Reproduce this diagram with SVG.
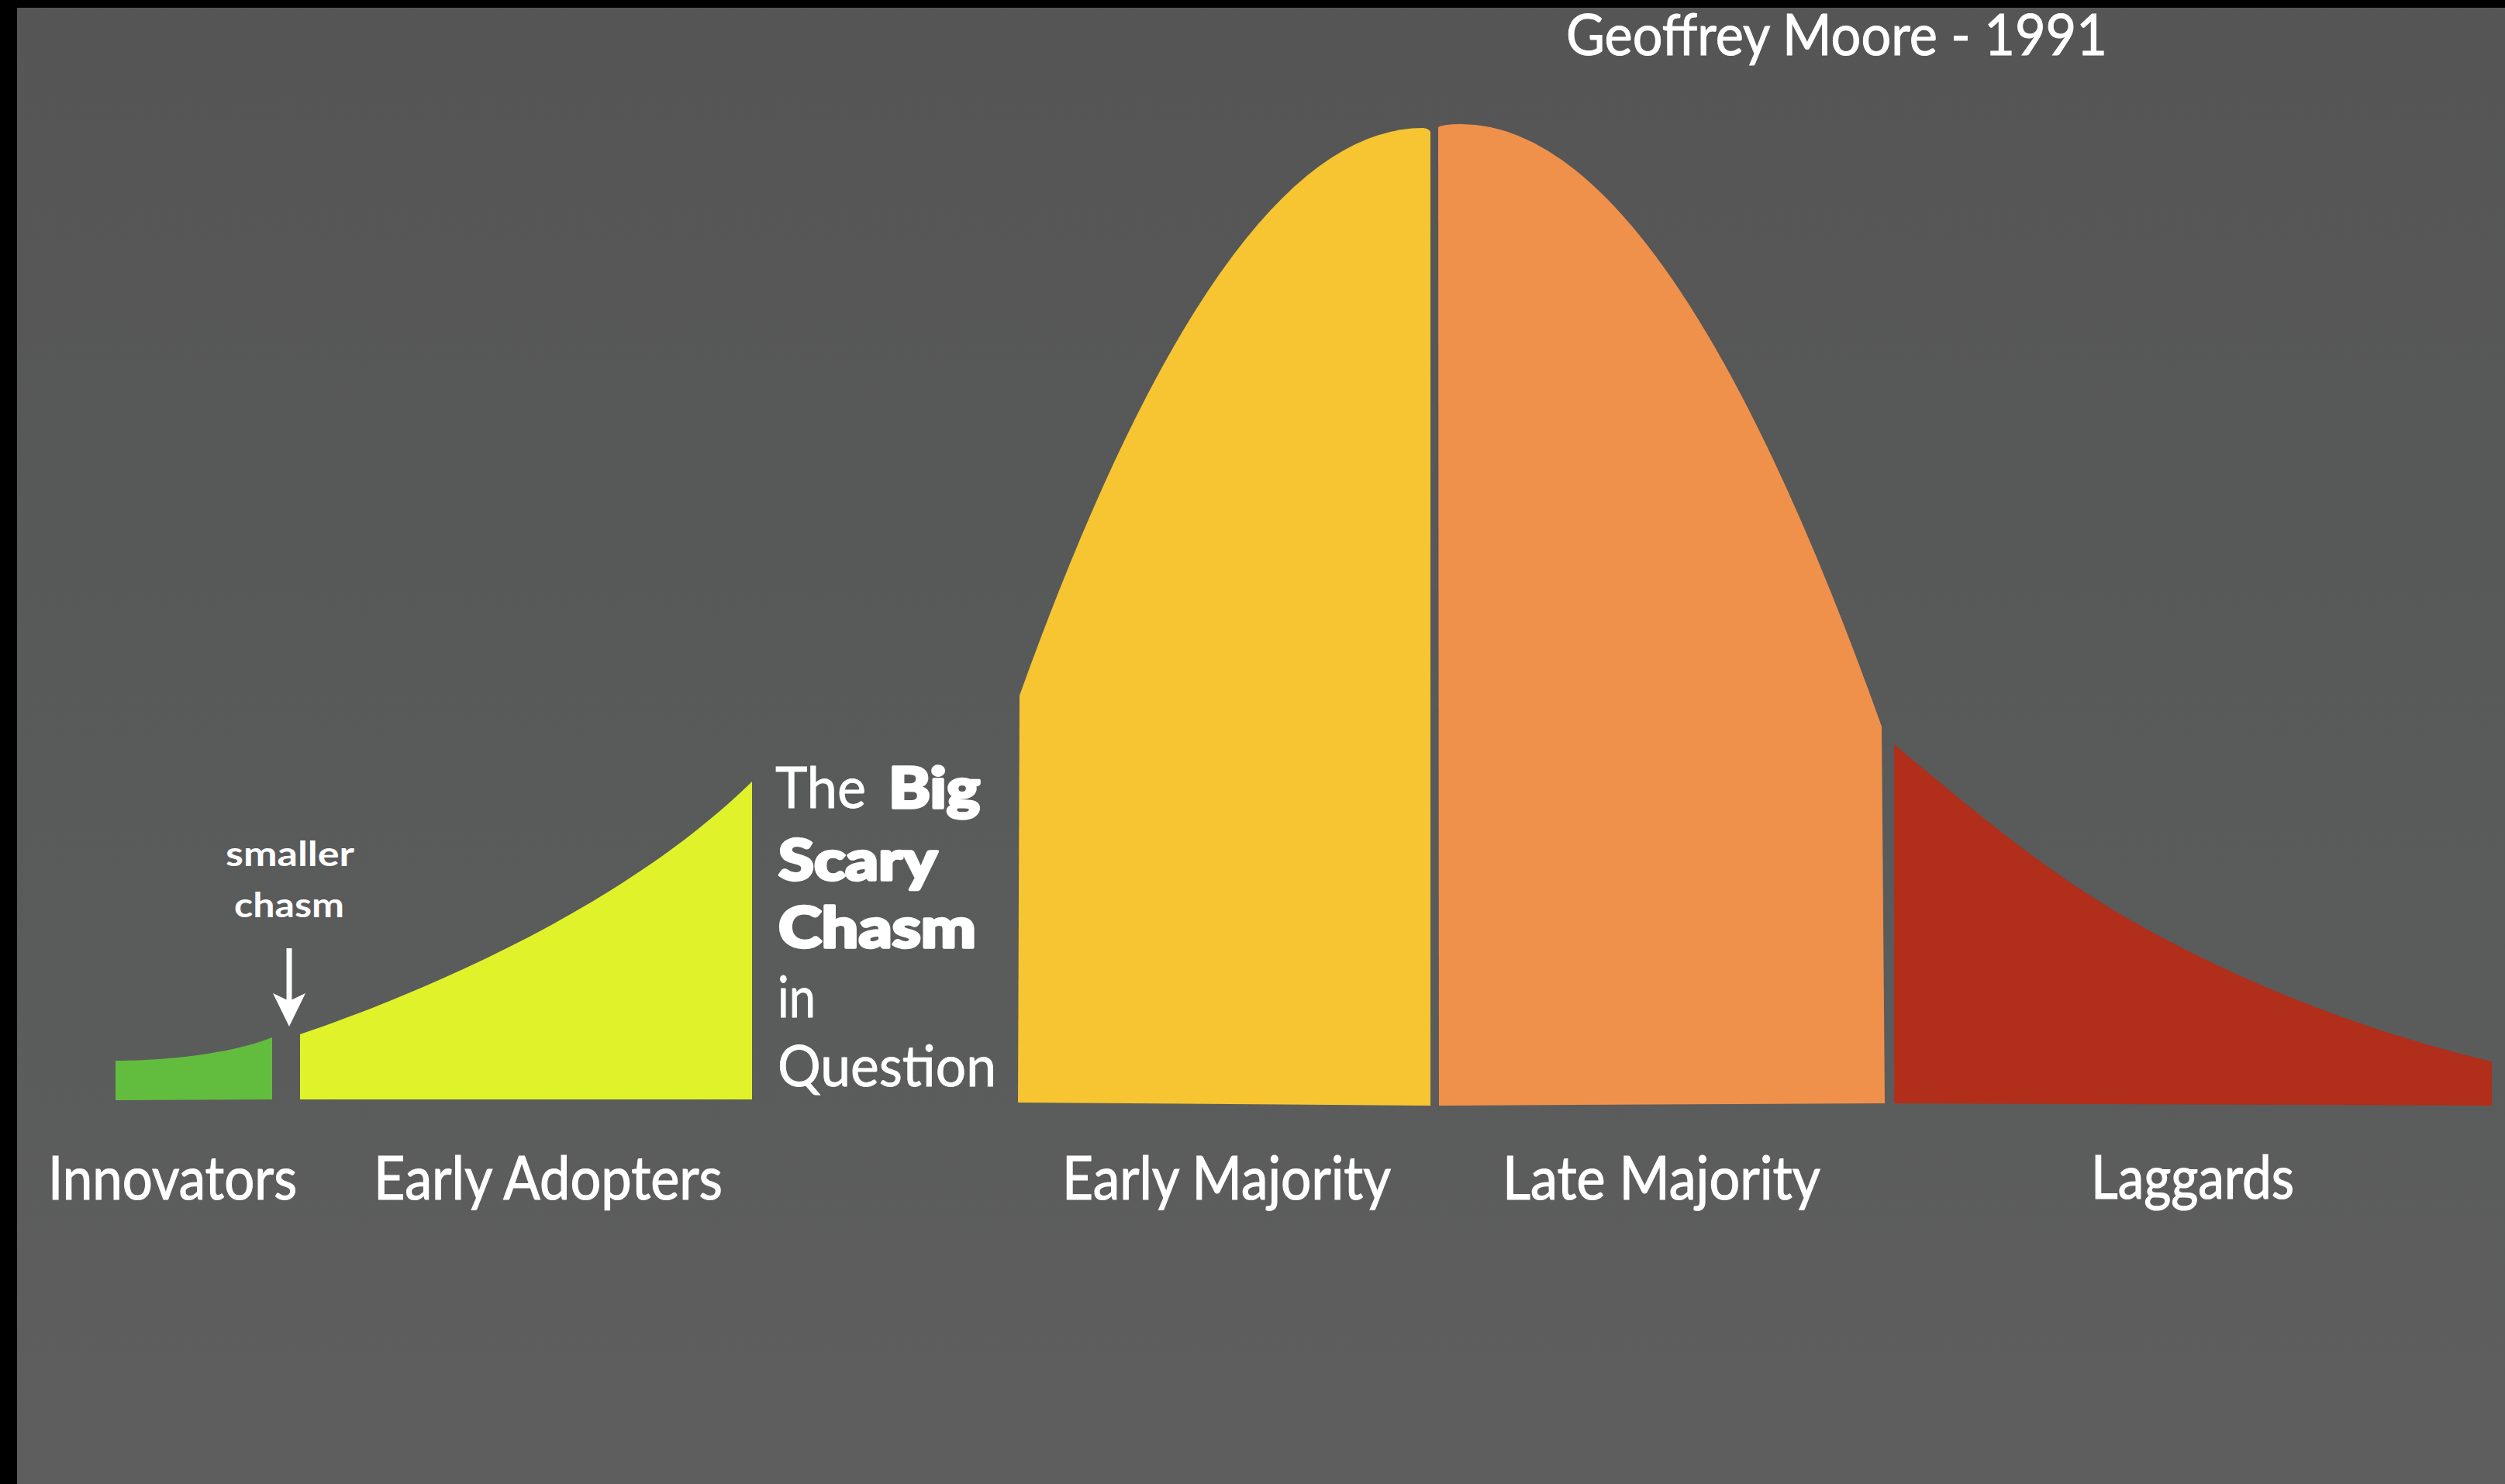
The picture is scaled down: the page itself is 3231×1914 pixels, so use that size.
<svg xmlns="http://www.w3.org/2000/svg" width="3231" height="1914" viewBox="0 0 3231 1914">
  <defs>
    <linearGradient id="bg" x1="0" y1="0" x2="0" y2="1">
      <stop offset="0" stop-color="#555555"/>
      <stop offset="0.55" stop-color="#595a5a"/>
      <stop offset="1" stop-color="#5e5e5e"/>
    </linearGradient>
    <style>
      .lbl { font-family: Lato, "Open Sans", "Liberation Sans", sans-serif; fill: #ffffff; font-size: 77px; stroke: #ffffff; stroke-width: 1.2px; }
      .title { font-family: Lato, "Open Sans", "Liberation Sans", sans-serif; fill: #ffffff; font-size: 73px; stroke: #ffffff; stroke-width: 1px; }
      .chasm { font-family: Lato, "Open Sans", "Liberation Sans", sans-serif; fill: #ffffff; font-size: 73px; stroke: #ffffff; stroke-width: 0.8px; }
      .heavy { font-weight: 900; stroke-width: 3.5px; stroke-linejoin: round; }
      .small { font-family: Lato, "Open Sans", "Liberation Sans", sans-serif; fill: #ffffff; font-size: 44px; font-weight: 700; }
      .arrow { fill: #ffffff; stroke: none; }
    </style>
  </defs>

  <rect x="0" y="0" width="3231" height="1914" fill="url(#bg)"/>
  <rect x="0" y="0" width="3231" height="10" fill="#000000"/>
  <rect x="0" y="0" width="22" height="1914" fill="#000000"/>

  <text class="title" x="2020" y="71" textLength="698" lengthAdjust="spacingAndGlyphs">Geoffrey Moore - 1991</text>

  <g id="innovators">
    <path d="M149,1419 L149,1368 C200,1368 290,1362 351,1338 L351,1418 Z" fill="#62bd3e"/>
    <text class="lbl" x="62" y="1547" textLength="321" lengthAdjust="spacingAndGlyphs">Innovators</text>
  </g>

  <g id="early-adopters">
    <path d="M387,1418 L387,1334 C560,1275 810,1165 970,1008 L970,1418 Z" fill="#e0f22a"/>
    <text class="lbl" x="482" y="1547" textLength="450" lengthAdjust="spacingAndGlyphs">Early Adopters</text>
  </g>

  <g id="smaller-chasm">
    <text class="small" x="291" y="1117" textLength="166" lengthAdjust="spacingAndGlyphs">smaller</text>
    <text class="small" x="302" y="1183" textLength="142" lengthAdjust="spacingAndGlyphs">chasm</text>
  </g>

  <g id="big-chasm">
    <text class="chasm" x="1000" y="1042" textLength="117" lengthAdjust="spacingAndGlyphs">The</text>
    <text class="chasm heavy" x="1146" y="1042" textLength="118" lengthAdjust="spacingAndGlyphs">Big</text>
    <text class="chasm heavy" x="1004" y="1135" textLength="205" lengthAdjust="spacingAndGlyphs">Scary</text>
    <text class="chasm heavy" x="1004" y="1222" textLength="255" lengthAdjust="spacingAndGlyphs">Chasm</text>
    <text class="chasm" x="1003" y="1312" textLength="49" lengthAdjust="spacingAndGlyphs">in</text>
    <text class="chasm" x="1003" y="1401" textLength="282" lengthAdjust="spacingAndGlyphs">Question</text>
  </g>

  <g id="early-majority">
    <path d="M1313,1422 L1315,897 Q1578,165 1836,165 Q1843,166 1845,170 L1845,1426 Z" fill="#f6c531"/>
    <text class="lbl" x="1370" y="1547" textLength="424" lengthAdjust="spacingAndGlyphs">Early Majority</text>
  </g>

  <g id="late-majority">
    <path d="M1856,1426 L1855,164 Q1863,160 1884,160 Q2150,160 2427,937 L2431,1423 Z" fill="#f0914b"/>
    <text class="lbl" x="1938" y="1547" textLength="410" lengthAdjust="spacingAndGlyphs">Late Majority</text>
  </g>

  <g id="laggards">
    <path d="M2443,1423 L2443,960 C2539,1040 2635,1122 2743,1184 C2890,1268 3050,1330 3214,1369 L3214,1426 Z" fill="#b12e1a"/>
    <text class="lbl" x="2697" y="1546" textLength="262" lengthAdjust="spacingAndGlyphs">Laggards</text>
  </g>

  <g id="connectors">
    <line x1="373" y1="1223" x2="373" y2="1292" stroke="#ffffff" stroke-width="7"/>
    <path class="arrow" d="M352,1281 L373,1324 L394,1281 L373,1291 Z"/>
  </g>
</svg>
